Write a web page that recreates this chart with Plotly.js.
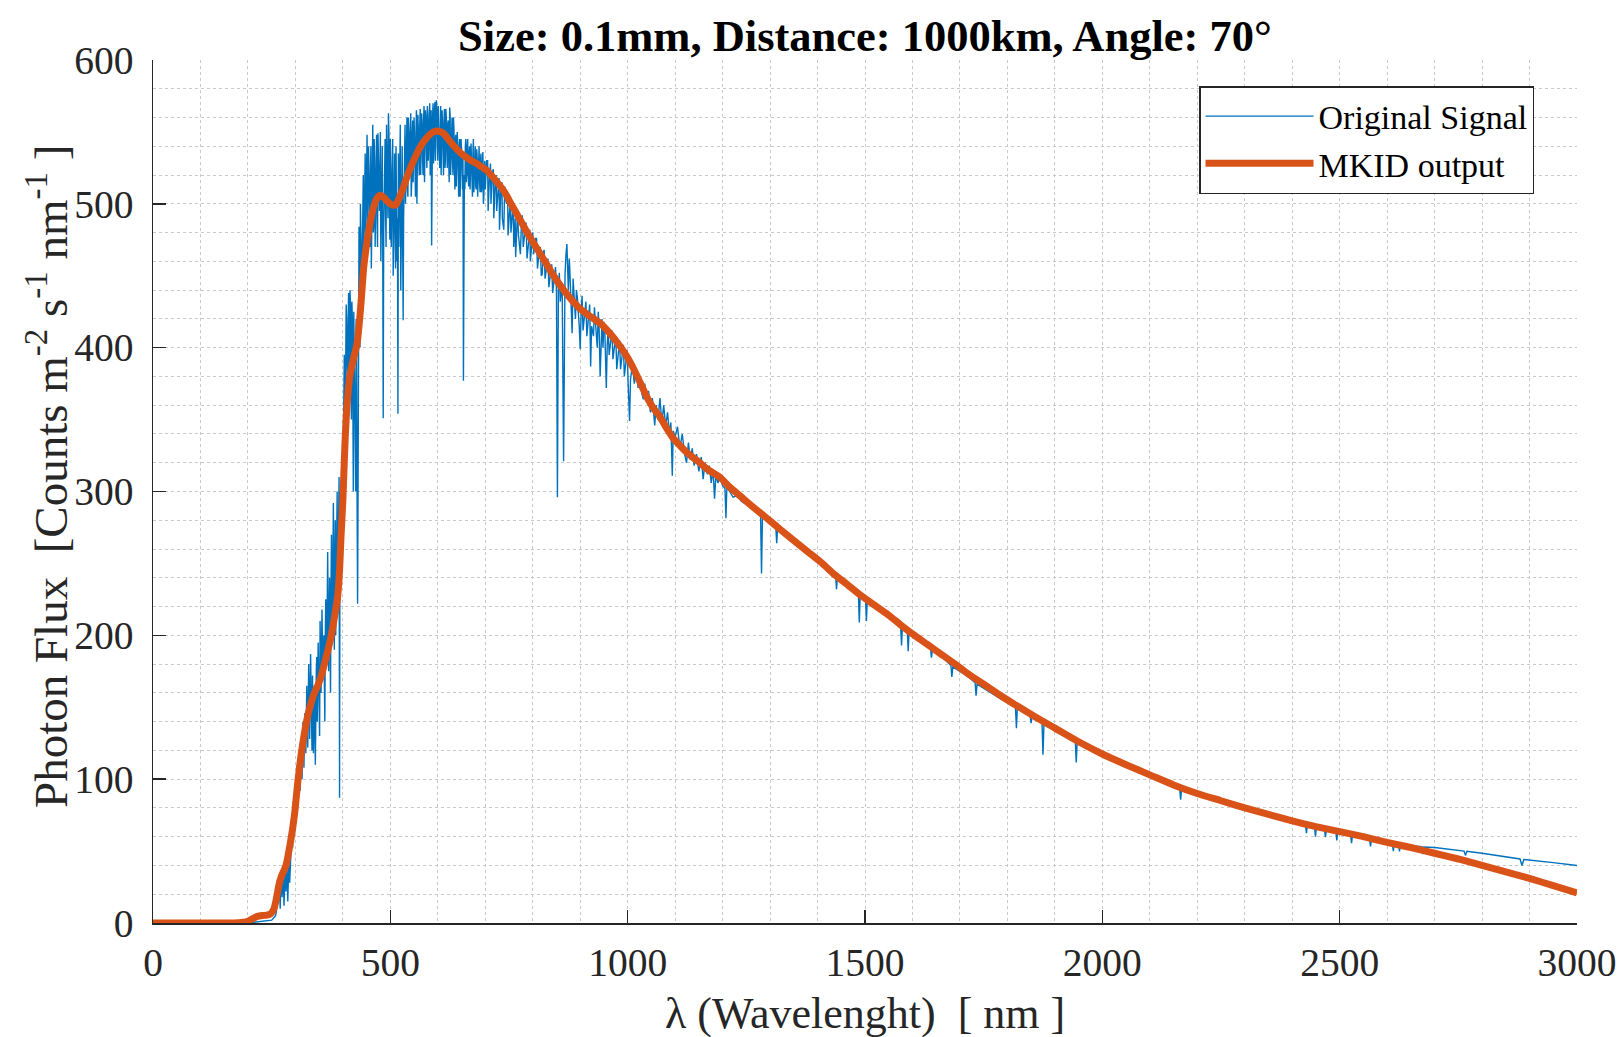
<!DOCTYPE html>
<html>
<head>
<meta charset="utf-8">
<script src="https://cdn.plot.ly/plotly-3.0.1.min.js"></script>
<style>
  html, body { margin: 0; padding: 0; background: #ffffff; }
  #chart { width: 1624px; height: 1037px; }
</style>
</head>
<body>
<div id="chart"></div>
<script>
// ---------------- DATA ----------------
// Original (measured) signal: wavelength [nm]
const signalWavelength = [
  0, 100, 200, 250, 258,
  260, 262, 264, 266, 268, 270, 272, 274, 276, 278, 280, 282, 284, 286, 288, 290, 292, 294, 296, 298, 300,
  302, 304, 306, 308, 310, 312, 314, 316, 318, 320, 322, 324, 326, 328, 330, 332, 334, 336, 338, 340,
  342, 344, 346, 348, 350, 352, 354, 356, 358, 360, 362, 364, 366, 368, 370, 372, 374, 376, 378, 380, 382, 384, 386, 388, 390, 392, 393, 394, 396, 398, 400,
  402, 404, 406, 408, 410, 412, 414, 416, 418, 420, 422, 424, 426, 428, 430, 431, 432, 434, 436, 438, 440,
  442, 444, 446, 448, 450, 452, 454, 456, 458, 460, 462, 464, 466, 468, 470, 472, 474, 476, 478, 480, 482, 484, 485, 486, 488, 490, 492, 494, 496, 498, 500,
  502, 504, 506, 508, 510, 512, 514, 516, 518, 520, 522, 524, 526, 527, 528, 530, 532, 534, 536, 538, 540, 542, 544, 546, 548, 550, 552, 554, 556, 558, 560,
  562, 564, 566, 568, 570, 572, 574, 576, 578, 580, 582, 584, 586, 587, 588, 590, 592, 594, 596, 598, 600, 602, 604, 606, 608, 610, 612, 614, 616, 618, 620,
  622, 624, 626, 628, 630, 632, 634, 636, 638, 640, 642, 644, 646, 648, 650, 652, 654, 656, 658, 660,
  662, 664, 666, 668, 670, 672, 674, 676, 678, 680, 682, 684, 686, 688, 690, 692, 694, 696, 698, 700,
  703, 706, 709, 712, 715, 718, 721, 724, 727, 730, 733, 736, 739, 742, 745, 748, 751, 754, 757, 760,
  763, 764, 766, 770, 774, 776, 780, 784, 788, 792, 795, 798, 802, 806, 810, 814, 818, 820, 822, 826, 830, 834, 838, 842, 846, 850,
  852, 854, 858, 862, 865, 867, 870, 872, 875, 878, 881, 883, 886, 890, 894, 898, 900, 902, 906, 910, 914, 918, 922, 924, 928, 932, 936, 940,
  942, 944, 948, 952, 955, 957, 961, 965, 969, 973, 977, 981, 985, 989, 993, 997, 1001, 1004, 1006,
  1010, 1014, 1018, 1022, 1026, 1030, 1033, 1036, 1040, 1044, 1048, 1052, 1057, 1060, 1064, 1068, 1072, 1076, 1080, 1084, 1088, 1091, 1094, 1096,
  1100, 1105, 1110, 1115, 1120, 1124, 1128, 1132, 1136, 1140, 1145, 1150, 1155, 1159, 1163, 1168, 1172, 1176, 1180, 1183, 1186, 1190, 1195, 1200,
  1205, 1207, 1209, 1215, 1222, 1230, 1240, 1250, 1260, 1270, 1280, 1282, 1284, 1295, 1305, 1312, 1314, 1316, 1330, 1345, 1360, 1375, 1390, 1405, 1420,
  1438, 1440, 1442, 1455, 1470, 1486, 1488, 1490, 1501, 1503, 1505, 1520, 1535, 1550, 1565, 1575, 1577, 1579, 1589, 1591, 1593, 1610, 1625, 1638, 1640, 1642,
  1660, 1681, 1683, 1685, 1700, 1715, 1732, 1734, 1736, 1750, 1765, 1780, 1795, 1817, 1819, 1821, 1835, 1848, 1850, 1852, 1865, 1873, 1875, 1877,
  1890, 1905, 1920, 1935, 1943, 1945, 1947, 1960, 1980, 2000,
  2050, 2100, 2150, 2163, 2165, 2167, 2200, 2250, 2300, 2350, 2400, 2428, 2430, 2432, 2447, 2449, 2451, 2468, 2470, 2472, 2492, 2494, 2496,
  2523, 2525, 2527, 2563, 2565, 2567, 2611, 2613, 2615, 2624, 2626, 2628, 2650, 2673, 2675, 2677, 2700, 2750, 2762, 2765, 2768, 2800, 2850, 2880, 2884, 2888, 2950, 3000
];
// Original (measured) signal: photon flux [counts m^-2 s^-1 nm^-1]
const signalFlux = [
  0, 0, 0, 2, 5,
  8, 30, 14, 33, 10, 36, 18, 38, 12, 35, 22, 40, 15, 42, 28, 48, 60, 52, 85, 62, 92,
  75, 110, 88, 118, 92, 125, 100, 140, 108, 146, 118, 165, 122, 180, 128, 187, 140, 172, 118, 165,
  110, 175, 140, 195, 150, 210, 160, 218, 170, 200, 140, 225, 180, 258, 175, 240, 160, 270, 200, 292, 190, 280, 230, 300, 250, 310, 87, 300, 280, 320, 300,
  360, 330, 390, 420, 360, 438, 380, 430, 350, 420, 300, 400, 330, 420, 290, 222, 300, 484, 400, 480, 430,
  505, 460, 520, 480, 530, 470, 540, 490, 515, 455, 535, 480, 545, 470, 525, 490, 549, 500, 520, 460, 510, 470, 351, 480, 530, 495, 555, 510, 563, 500, 545,
  470, 530, 450, 520, 480, 540, 460, 354, 470, 530, 440, 520, 470, 419, 490, 545, 500, 552, 510, 560, 520, 555, 505, 548, 515, 560, 520, 550, 500, 562, 530,
  555, 520, 563, 530, 558, 515, 565, 540, 568, 530, 560, 520, 565, 471, 545, 570, 540, 571, 545, 565, 530, 560, 525, 568, 535, 555, 520, 566, 530, 560, 525,
  558, 515, 562, 530, 560, 520, 552, 510, 548, 525, 540, 505, 545, 520, 538, 510, 377, 520, 540, 515,
  540, 520, 535, 510, 542, 515, 535, 508, 530, 512, 538, 505, 532, 515, 530, 508, 528, 500, 525, 510,
  530, 495, 520, 500, 522, 490, 515, 495, 512, 482, 512, 490, 482, 505, 500, 478, 498, 480, 495, 470,
  490, 463, 488, 478, 465, 485, 470, 482, 462, 478, 460, 475, 465, 476, 455, 468, 450, 451, 465, 448, 460, 442, 455, 438, 452, 440,
  296, 440, 432, 445, 321, 440, 465, 472, 440, 455, 420, 410, 440, 420, 435, 415, 399, 425, 412, 428, 408, 422, 387, 415, 408, 418, 400, 412,
  380, 410, 400, 410, 372, 402, 395, 408, 392, 402, 385, 398, 385, 395, 380, 392, 375, 349, 378,
  388, 375, 385, 372, 380, 368, 364, 375, 362, 370, 355, 365, 346, 360, 350, 365, 348, 360, 345, 355, 340, 348, 311, 342,
  338, 345, 330, 340, 326, 320, 334, 322, 330, 318, 326, 314, 324, 308.5, 320, 312, 318, 306, 315, 295, 312, 306, 310, 304,
  302, 281.5, 303, 300, 296, 297, 293, 291, 289, 287, 284, 243, 283, 281, 279, 276, 264, 275, 272, 268, 263, 259, 255, 251, 247,
  242, 232, 242, 239, 234, 230, 209, 229, 227, 210, 226, 222, 218, 214, 210, 207, 193, 207, 204, 189, 204, 199, 195, 191, 184.5, 190,
  186, 179, 171, 178, 175, 172, 167, 158, 166, 163, 160, 157, 154, 150, 135.5, 150, 147, 144, 139, 144, 141, 139, 117, 138,
  137, 134, 131, 129, 127, 111.6, 126, 124, 121, 118,
  110, 103.5, 96.5, 93.5, 85.7, 93.5, 90, 85, 80, 75.5, 71, 68.5, 62.5, 68.3, 67, 60, 66.8, 65.3, 59.7, 65, 63.8, 57.4, 63.5,
  61.5, 55.5, 61.3, 58.5, 53.2, 58.3, 55.3, 50, 55, 54.5, 49.7, 54.3, 53.5, 53, 47.8, 52.8, 52.5, 50.5, 50, 47, 49.8, 48.5, 46, 44.5, 40, 44.2, 42, 40
];
// Additional samples of the original signal read between the ones above (dense noisy band)
const signalExtraWavelength = [
  331, 335, 345, 351, 357, 363, 369, 375, 381, 385, 387, 389, 391, 395, 397, 399,
  401, 403, 405, 407, 409, 411, 413, 415, 417, 419, 421, 423, 425, 427, 429, 433, 435, 437, 439,
  441, 443, 445, 447, 449, 451, 453, 455, 457, 459, 461, 463, 465, 467, 469, 471, 473, 475, 477, 479, 481, 483, 487, 489, 491, 493, 495, 497, 499,
  501, 503, 505, 507, 509, 511, 513, 515, 517, 519, 521, 523, 525, 529, 531, 533, 535, 537, 539, 541, 543, 545, 547, 549, 551, 553, 555, 557, 559,
  561, 563, 565, 567, 569, 571, 573, 575, 577, 579, 581, 583, 585, 589, 591, 593, 595, 597, 599, 601, 603, 605, 607, 609, 611, 613, 615, 617, 619,
  621, 623, 625, 627, 629, 631, 633, 635, 637, 639, 641, 643, 645, 647, 649, 651, 653, 657, 659,
  661, 663, 665, 667, 669, 671, 673, 675, 677, 679, 681, 683, 685, 687, 689, 691, 693, 695, 697, 699,
  705, 711, 717, 723, 729, 735, 741, 747, 753, 759, 768, 778, 786, 794, 800, 808, 816, 824, 832, 840, 848, 856, 868, 877, 885, 892,
  904, 912, 920, 930, 938, 946, 950, 959, 967, 975, 983, 991, 999
];
const signalExtraFlux = [
  150, 120, 185, 130, 195, 200, 210, 230, 250, 200, 270, 215, 280, 260, 300, 270,
  340, 395, 350, 430, 385, 410, 360, 440, 395, 432, 370, 425, 350, 300, 400, 460, 440, 500, 450,
  470, 520, 490, 535, 500, 548, 495, 525, 470, 540, 500, 555, 485, 530, 500, 548, 470, 535, 495, 550, 480, 540, 505, 545, 470, 530, 490, 550, 475,
  525, 490, 545, 480, 535, 455, 515, 490, 535, 500, 555, 480, 540, 510, 555, 520, 560, 505, 550, 530, 563, 515, 558, 528, 545, 505, 565, 530, 552,
  520, 566, 535, 555, 520, 568, 540, 560, 525, 563, 540, 570, 535, 560, 528, 566, 530, 572, 545, 568, 540, 562, 520, 565, 540, 558, 525, 566, 540,
  555, 530, 567, 520, 550, 530, 560, 528, 545, 512, 550, 528, 540, 505, 545, 525, 535, 510, 545,
  520, 545, 512, 540, 520, 530, 505, 545, 518, 540, 510, 532, 515, 540, 508, 535, 512, 536, 505, 530,
  530, 528, 524, 520, 518, 515, 512, 508, 505, 500, 495, 492, 487, 482, 480, 476, 470, 468, 462, 458, 456, 452, 450, 462, 448, 440,
  436, 432, 430, 428, 425, 420, 418, 414, 412, 408, 405, 402, 398
];

// MKID output: wavelength [nm]
const mkidWavelength = [
  0, 50, 100, 150, 180, 190, 200, 210, 220, 230, 240, 248, 255, 260, 265, 270, 280, 290, 298, 305, 312, 319, 326, 333, 340,
  347, 354, 361, 368, 375, 382, 389, 393, 396, 400, 405, 410, 415, 422, 430, 437, 444, 451, 458, 465, 472, 479, 486, 493, 500,
  506, 512, 520, 527, 535, 549, 563, 577, 591, 602, 612, 622, 633, 643, 654, 668, 682, 693, 704, 720, 739, 756, 774, 790, 805,
  820, 844, 870, 900, 920, 942, 960, 984, 1000, 1013, 1026, 1040, 1054, 1068, 1082, 1096, 1110, 1125, 1140, 1152, 1170, 1194,
  1215, 1240, 1265, 1293, 1320, 1350, 1380, 1410, 1433, 1460, 1490, 1520, 1550, 1574, 1600, 1630, 1660, 1690, 1714, 1750, 1783,
  1820, 1860, 1900, 1950, 2000, 2050, 2100, 2150, 2200, 2250, 2300, 2350, 2400, 2450, 2500, 2550, 2600, 2650, 2700, 2750, 2800,
  2850, 2900, 2950, 3000
];
// MKID output: photon flux
const mkidFlux = [
  0, 0, 0, 0, 0.2, 0.5, 1.2, 3, 4.6, 5.2, 5.5, 6.5, 10, 17, 26, 32, 40, 57, 75, 98, 117, 132, 144, 153, 160,
  165, 171, 180, 189, 199, 212, 227, 245, 268, 294, 338, 365, 381, 392, 403, 426, 456, 474, 488, 498, 504, 506, 504.5, 502, 500,
  499, 499.5, 505, 511, 518.7, 530, 539.5, 546, 550, 550.5, 549, 545, 540.6, 537, 533.7, 530.5, 528, 525.5, 523, 517, 509, 499, 488.6, 479, 471,
  463, 450, 438, 427, 422, 417, 411, 401, 393, 385, 376, 366, 358, 352, 344, 337, 332, 327, 323, 320, 315, 310,
  303, 296, 289, 281.5, 274, 266, 258, 250, 243, 236, 228, 221, 214, 207.6, 201, 194, 187, 180, 174, 166, 158.7,
  151, 143, 135.5, 126, 117.5, 110, 103, 96, 90, 85, 80, 75.5, 71, 67, 63.5, 60, 56, 52.5, 48.5, 44.5, 40,
  35.5, 31, 26, 21
];

const seriesNames = ['Original Signal', 'MKID output'];
const xTickValues = [0, 500, 1000, 1500, 2000, 2500, 3000];
const yTickValues = [0, 100, 200, 300, 400, 500, 600];

const chartTitle = '<b>Size: 0.1mm, Distance: 1000km, Angle: 70°</b>';
const xLabel = '\u03bb (Wavelenght)&nbsp;&nbsp;[ nm ]';
const yLabel = 'Photon Flux&nbsp;&nbsp;[Counts m<sup>-2</sup> s<sup>-1</sup> nm<sup>-1</sup> ]';

// merge the two sample lists of the original signal in wavelength order
const signalPairs = signalWavelength.map((w, i) => [w, signalFlux[i]])
  .concat(signalExtraWavelength.map((w, i) => [w, signalExtraFlux[i]]))
  .sort((a, b) => a[0] - b[0]);
const signalX = signalPairs.map(p => p[0]);
const signalY = signalPairs.map(p => p[1]);

// ---------------- STYLE ----------------
const FONT = 'Liberation Serif, Times New Roman, serif';
const AXIS_COLOR = '#262626';
const GRID_COLOR = '#c9c9c9';

const traces = [
  {
    x: signalX, y: signalY, name: seriesNames[0],
    type: 'scatter', mode: 'lines',
    line: { color: '#0072BD', width: 1.4 }
  },
  {
    x: mkidWavelength, y: mkidFlux, name: seriesNames[1],
    type: 'scatter', mode: 'lines',
    line: { color: '#D95319', width: 7, shape: 'spline', smoothing: 0.6 }
  }
];

const axisCommon = {
  showline: true, linecolor: AXIS_COLOR, linewidth: 1.5, mirror: false,
  ticks: 'inside', ticklen: 13, tickwidth: 1.5, tickcolor: AXIS_COLOR,
  showgrid: true, gridcolor: GRID_COLOR, gridwidth: 1, griddash: 'dot',
  zeroline: false,
  tickfont: { family: FONT, size: 39.5, color: AXIS_COLOR }
};

const layout = {
  width: 1624, height: 1037,
  paper_bgcolor: '#ffffff', plot_bgcolor: '#ffffff',
  margin: { l: 153, r: 47, t: 60, b: 114 },
  showlegend: true,
  title: {
    text: chartTitle,
    font: { family: FONT, size: 44.5, color: '#000000' },
    x: 0.5, xref: 'paper', xanchor: 'center',
    y: 1 - 35 / 1037, yref: 'container', yanchor: 'middle'
  },
  xaxis: Object.assign({}, axisCommon, {
    range: [0, 3000], tickmode: 'array', tickvals: xTickValues,
    ticklabelstandoff: 4,
    minor: { dtick: 100, tick0: 0, showgrid: true, gridcolor: GRID_COLOR, gridwidth: 1, griddash: 'dot', ticks: '' }
  }),
  yaxis: Object.assign({}, axisCommon, {
    range: [0, 600], tickmode: 'array', tickvals: yTickValues,
    ticklabelstandoff: 10,
    minor: { dtick: 20, tick0: 0, showgrid: true, gridcolor: GRID_COLOR, gridwidth: 1, griddash: 'dot', ticks: '' }
  }),
  legend: {
    x: (1199 - 153) / 1424, y: (923 - 86) / 863, xanchor: 'left', yanchor: 'top',
    bgcolor: '#ffffff', bordercolor: AXIS_COLOR, borderwidth: 1.5,
    font: { family: FONT, size: 34, color: '#000000' },
    itemwidth: 108, tracegroupgap: 0
  },
  annotations: [
    {
      text: xLabel, xref: 'paper', yref: 'paper', x: 0.5, y: 0,
      xanchor: 'center', yanchor: 'middle', yshift: -90, showarrow: false,
      font: { family: FONT, size: 44, color: AXIS_COLOR }
    },
    {
      text: yLabel, xref: 'paper', yref: 'paper', x: 0, y: (923 - 477) / 863,
      xanchor: 'center', yanchor: 'middle', xshift: -106, textangle: -90, showarrow: false,
      font: { family: FONT, size: 47, color: AXIS_COLOR }
    }
  ]
};

Plotly.newPlot('chart', traces, layout, { displayModeBar: false, staticPlot: true });
</script>
</body>
</html>
